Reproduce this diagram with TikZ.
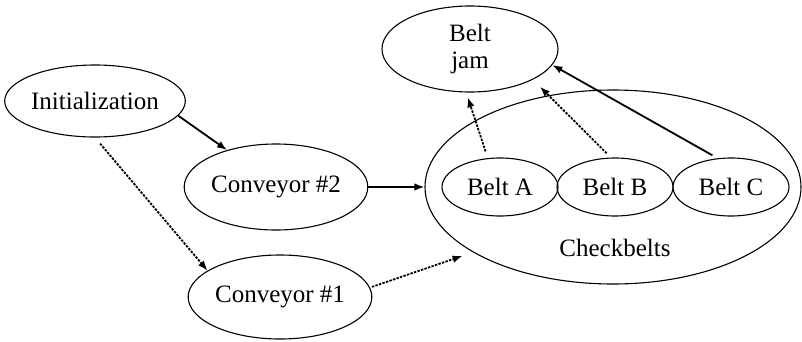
\documentclass[tikz,border=0pt]{standalone}
\usepackage{fontspec}
\setmainfont{Liberation Serif}
\usetikzlibrary{arrows.meta,shapes.geometric}

\begin{document}
\begin{tikzpicture}[x=1pt,y=1pt]
	\tikzstyle{state} = [
		ellipse,
		draw,
		line width=1.1pt,
		inner sep=0pt,
		font=\fontsize{25}{27}\selectfont
	]
	\tikzstyle{flow} = [
		line width=1.8pt,
		-{Latex[length=10pt,width=7.5pt]}
	]
	\tikzstyle{maybe} = [
		flow,
		dash pattern=on 2.4pt off 1.3pt
	]

	\useasboundingbox (0,0) rectangle (802,341);

	\node (init) [state, minimum width=174pt, minimum height=72pt] at (95,240) {Initialization};
	\node (conv2) [state, minimum width=174pt, minimum height=86pt] at (276,154) {Conveyor \#2};
	\node (conv1) [state, minimum width=182pt, minimum height=84pt] at (280,44) {Conveyor \#1};
	\node (jam) [state, minimum width=176pt, minimum height=86pt, align=center] at (470,292) {Belt\\jam};

	\node (check) [state, minimum width=376pt, minimum height=194pt] at (613,154) {};
	\node (checkname) [font=\fontsize{25}{27}\selectfont] at (615,93) {Checkbelts};

	\node (beltA) [state, minimum width=116pt, minimum height=58pt] at (500,154) {Belt A};
	\node (beltB) [state, minimum width=116pt, minimum height=58pt] at (615,154) {Belt B};
	\node (beltC) [state, minimum width=116pt, minimum height=58pt] at (731,154) {Belt C};

	\draw [flow] (init.-10) -- (conv2.143);
	\draw [maybe, shorten <=8pt] (init.south) -- (conv1.160);
	\draw [flow] (conv2.east) -- (check.west);
	\draw [maybe, shorten <=2pt, shorten >=11pt] (conv1.6) -- (check.205);

	\draw [maybe, shorten <=7pt, shorten >=5pt] (beltA.113) -- (jam.265);
	\draw [maybe, shorten <=6pt, shorten >=10pt] (beltB.98) -- (jam.-26);
	\draw [flow, shorten <=6pt] (beltC.115) -- (jam.-11);

\end{tikzpicture}
\end{document}
